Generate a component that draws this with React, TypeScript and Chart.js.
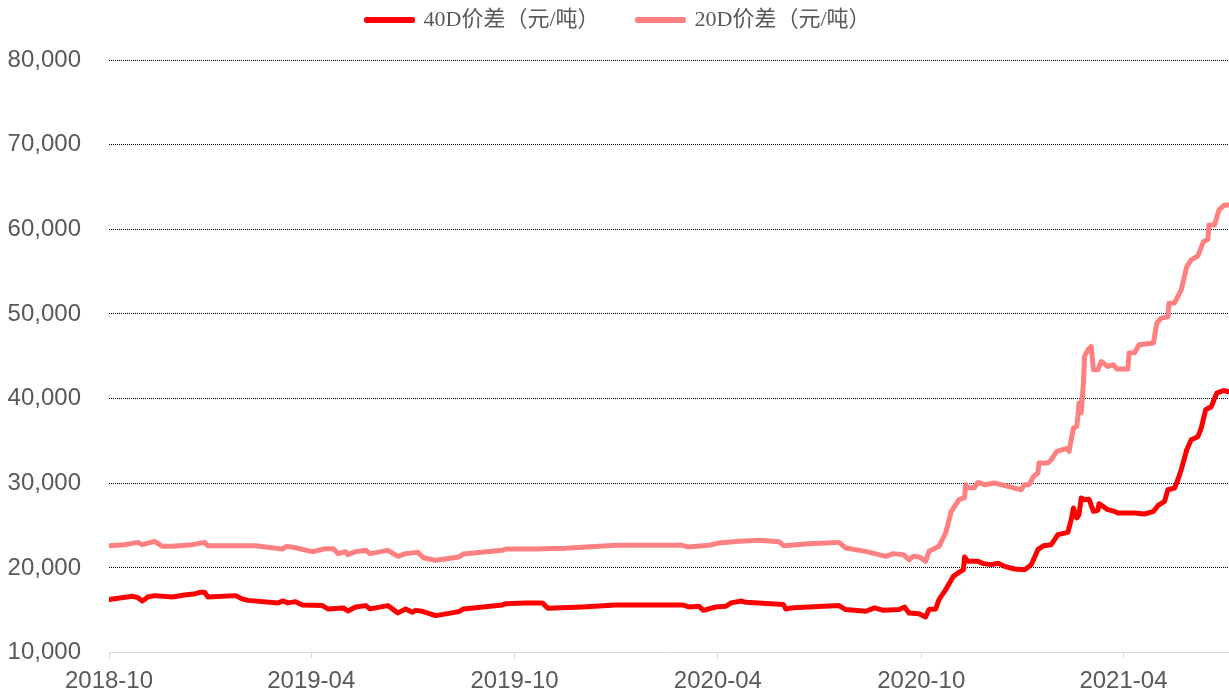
import React, { useEffect, useRef } from "react";
import { Chart, registerables } from "chart.js";

Chart.register(...registerables);

const ORIGIN = "2018-10-01";
const tickLabels = ["2018-10", "2019-04", "2019-10", "2020-04", "2020-10", "2021-04"];
const yMin = 10000;
const yMax = 80000;
const yStep = 10000;

const seriesNames = ["40D价差（元/吨）", "20D价差（元/吨）"];

const dates40 = [
  "2018-10-01","2018-10-22","2018-10-27","2018-10-31","2018-11-05","2018-11-11","2018-11-27","2018-12-08","2018-12-18","2018-12-22",
  "2018-12-26","2018-12-29","2019-01-23","2019-01-29","2019-02-03","2019-03-02","2019-03-07","2019-03-11","2019-03-18","2019-03-24",
  "2019-04-11","2019-04-16","2019-04-30","2019-05-04","2019-05-11","2019-05-20","2019-05-24","2019-06-09","2019-06-18","2019-06-25",
  "2019-07-01","2019-07-04","2019-07-10","2019-07-22","2019-08-12","2019-08-16","2019-09-20","2019-09-23","2019-10-11","2019-10-26",
  "2019-10-31","2019-12-01","2019-12-31","2020-02-29","2020-03-06","2020-03-15","2020-03-19","2020-03-30","2020-04-08","2020-04-13",
  "2020-04-22","2020-04-26","2020-05-30","2020-06-01","2020-06-08","2020-07-19","2020-07-25","2020-08-12","2020-08-20","2020-08-28",
  "2020-09-11","2020-09-16","2020-09-20","2020-09-29","2020-10-05","2020-10-08","2020-10-14","2020-10-17","2020-10-23","2020-10-30",
  "2020-11-04","2020-11-08","2020-11-09","2020-11-12","2020-11-21","2020-11-26","2020-12-03","2020-12-09","2020-12-15","2020-12-24",
  "2021-01-02","2021-01-08","2021-01-14","2021-01-19","2021-01-26","2021-02-01","2021-02-10","2021-02-13","2021-02-15","2021-02-18",
  "2021-02-20","2021-02-22","2021-02-25","2021-03-01","2021-03-05","2021-03-09","2021-03-10","2021-03-18","2021-03-24","2021-03-27",
  "2021-04-11","2021-04-20","2021-04-28","2021-05-02","2021-05-08","2021-05-11","2021-05-17","2021-05-20","2021-05-23","2021-05-28",
  "2021-06-01","2021-06-07","2021-06-10","2021-06-14","2021-06-19","2021-06-24","2021-06-30","2021-07-05",
];

const values40 = [
  16260,16650,16490,16100,16570,16730,16570,16810,16960,17120,
  17120,16570,16730,16340,16170,15870,16100,15870,16020,15630,
  15550,15160,15280,14920,15390,15550,15160,15550,14690,15160,
  14760,14990,14880,14370,14840,15160,15630,15780,15870,15870,
  15230,15390,15630,15630,15390,15470,14990,15390,15470,15870,
  16100,15940,15670,15160,15310,15550,15080,14880,15280,14990,
  15080,15390,14690,14600,14210,15080,15160,16260,17440,19010,
  19480,19800,21300,20780,20780,20510,20390,20560,20190,19880,
  19800,20390,22160,22630,22750,23930,24200,25700,27080,25900,
  26290,28260,28060,28120,26680,26800,27590,26880,26680,26490,
  26490,26370,26680,27350,27860,29240,29440,30420,31600,33960,
  35140,35500,36520,38680,39040,40650,40960,40810,
];

const dates20 = [
  "2018-10-01","2018-10-15","2018-10-27","2018-10-31","2018-11-11","2018-11-18","2018-11-27","2018-12-15","2018-12-26","2018-12-29",
  "2019-02-10","2019-03-06","2019-03-10","2019-03-18","2019-04-02","2019-04-14","2019-04-21","2019-04-25","2019-05-02","2019-05-04",
  "2019-05-11","2019-05-20","2019-05-24","2019-06-09","2019-06-18","2019-06-25","2019-07-06","2019-07-11","2019-07-22","2019-08-12",
  "2019-08-16","2019-09-20","2019-09-23","2019-10-17","2019-11-16","2019-12-16","2019-12-31","2020-02-29","2020-03-05","2020-03-24",
  "2020-04-02","2020-04-20","2020-05-08","2020-05-26","2020-05-30","2020-06-22","2020-07-19","2020-07-25","2020-08-12","2020-08-30",
  "2020-09-06","2020-09-15","2020-09-20","2020-09-24","2020-09-29","2020-10-03","2020-10-05","2020-10-08","2020-10-17","2020-10-23",
  "2020-10-28","2020-10-31","2020-11-04","2020-11-09","2020-11-10","2020-11-12","2020-11-18","2020-11-21","2020-11-27","2020-12-06",
  "2020-12-18","2020-12-30","2021-01-02","2021-01-06","2021-01-10","2021-01-14","2021-01-15","2021-01-23","2021-01-26","2021-01-31",
  "2021-02-10","2021-02-11","2021-02-13","2021-02-15","2021-02-18","2021-02-19","2021-02-20","2021-02-22","2021-02-24","2021-02-25",
  "2021-02-28","2021-03-03","2021-03-05","2021-03-09","2021-03-12","2021-03-18","2021-03-23","2021-03-26","2021-04-05","2021-04-06",
  "2021-04-11","2021-04-15","2021-04-28","2021-05-01","2021-05-05","2021-05-11","2021-05-12","2021-05-17","2021-05-23","2021-05-28",
  "2021-06-01","2021-06-07","2021-06-12","2021-06-16","2021-06-17","2021-06-22","2021-06-26","2021-07-01","2021-07-05",
];

const values20 = [
  22630,22750,23020,22750,23140,22550,22550,22750,23020,22630,
  22630,22240,22550,22390,21920,22280,22280,21690,21920,21570,
  21920,22080,21690,22080,21370,21690,21840,21210,20900,21300,
  21650,22080,22240,22240,22340,22550,22670,22670,22480,22670,
  22950,23140,23260,23100,22630,22870,23020,22360,21960,21370,
  21690,21570,20980,21370,21300,20980,20780,21960,22550,24130,
  26640,27270,28060,28300,29830,29480,29480,30100,29830,30030,
  29630,29240,29830,29830,30810,31210,32390,32390,32780,33760,
  34160,33760,35140,36520,36710,37890,39470,38330,41840,44980,
  45770,46160,43400,43400,44390,43800,44000,43490,43490,45380,
  45410,46360,46560,48920,49510,49660,51280,51310,52850,55600,
  56390,56860,58550,58830,60520,60520,62290,62880,62880,
];

const dayOf = (s: string): number => {
  const [y, m, d] = s.split("-").map(Number);
  const [oy, om, od] = ORIGIN.split("-").map(Number);
  return Math.round((Date.UTC(y, m - 1, d || 1) - Date.UTC(oy, om - 1, od)) / 86400000);
};

const toPoints = (dates: string[], values: number[]) =>
  dates.map((d, i) => ({ x: dayOf(d), y: values[i] }));

const TICK_FONT = "'Liberation Sans', Arial, sans-serif";
const LEGEND_FONT = "'Liberation Serif', 'Noto Sans CJK SC', serif";
const LEGEND_HEIGHT = 60;
const LEGEND_SHIFT_X = 4;
const LEGEND_SHIFT_Y = -29;
const X_AXIS_HEIGHT = 42;

export default function App() {
  const ref = useRef<HTMLCanvasElement | null>(null);

  useEffect(() => {
    if (!ref.current) return;
    const pts40 = toPoints(dates40, values40);
    const pts20 = toPoints(dates20, values20);
    const tickValues = tickLabels.map((l) => dayOf(l + "-01"));
    const xMax = Math.max(...pts40.map((p) => p.x), ...pts20.map((p) => p.x));

    const legendSpacer = {
      id: "legendSpacer",
      beforeInit(chart: any) {
        const lg = chart.legend;
        if (!lg) return;
        const origFit = lg.fit;
        lg.fit = function () {
          origFit.call(this);
          this.height = LEGEND_HEIGHT;
        };
        const origDraw = lg.draw;
        lg.draw = function () {
          const c = this.ctx;
          c.save();
          c.translate(LEGEND_SHIFT_X, LEGEND_SHIFT_Y);
          origDraw.call(this);
          c.restore();
        };
      },
    };

    const chart = new Chart(ref.current, {
      type: "line",
      data: {
        datasets: [
          {
            label: seriesNames[0],
            data: pts40,
            borderColor: "#FF0000",
            backgroundColor: "#FF0000",
            borderWidth: 5,
            pointRadius: 0,
            tension: 0,
            borderJoinStyle: "round",
            borderCapStyle: "round",
          },
          {
            label: seriesNames[1],
            data: pts20,
            borderColor: "#FF8080",
            backgroundColor: "#FF8080",
            borderWidth: 5,
            pointRadius: 0,
            tension: 0,
            borderJoinStyle: "round",
            borderCapStyle: "round",
          },
        ],
      },
      options: {
        animation: false,
        responsive: false,
        devicePixelRatio: 1,
        layout: { padding: { left: 0, right: 0, top: 0, bottom: 0 } },
        plugins: {
          legend: {
            position: "top",
            align: "center",
            labels: {
              boxWidth: 46,
              boxHeight: 1,
              padding: 38,
              color: "#595959",
              font: { size: 22, family: LEGEND_FONT },
            },
          },
          tooltip: { enabled: false },
        },
        scales: {
          x: {
            type: "linear",
            min: 0,
            max: xMax,
            afterFit: (scale: any) => {
              scale.height = X_AXIS_HEIGHT;
            },
            border: { display: true, color: "#D9D9D9", width: 1 },
            grid: {
              display: true,
              drawOnChartArea: false,
              drawTicks: true,
              tickLength: 6,
              color: "#D9D9D9",
            },
            afterBuildTicks: (scale: any) => {
              scale.ticks = tickValues.map((v) => ({ value: v }));
            },
            ticks: {
              autoSkip: false,
              maxRotation: 0,
              padding: 8,
              color: "#595959",
              font: { size: 24, family: TICK_FONT },
              callback: (v: any) => {
                const i = tickValues.indexOf(Number(v));
                return i >= 0 ? tickLabels[i] : "";
              },
            },
          },
          y: {
            min: yMin,
            max: yMax,
            afterFit: (scale: any) => {
              scale.width = 109;
            },
            border: { display: false, dash: [1, 1] },
            grid: {
              drawTicks: false,
              lineWidth: 1,
              color: (ctx: any) => (ctx.tick && ctx.tick.value === yMin ? "rgba(0,0,0,0)" : "#000000"),
            },
            ticks: {
              stepSize: yStep,
              padding: 28,
              color: "#595959",
              font: { size: 24, family: TICK_FONT },
              callback: (v: any) => Number(v).toLocaleString("en-US"),
            },
          },
        },
      } as any,
      plugins: [legendSpacer],
    });
    return () => chart.destroy();
  }, []);

  return (
    <div style={{ position: "fixed", left: 0, top: 0, width: 1229, height: 695, background: "#fff" }}>
      <canvas ref={ref} width={1229} height={695} />
    </div>
  );
}
